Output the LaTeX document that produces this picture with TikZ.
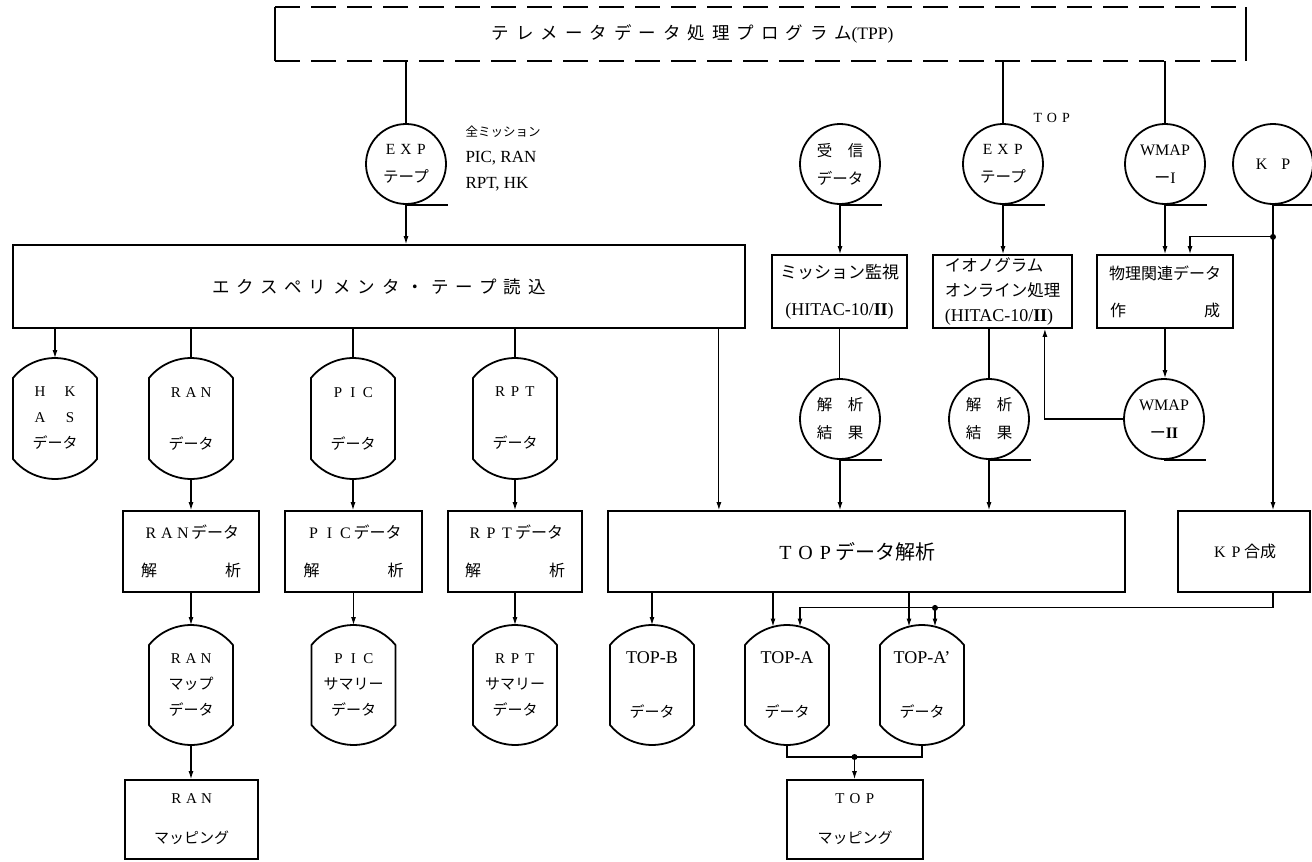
\documentclass[tikz,border=0pt]{standalone}
\usepackage{fontspec}
\setmainfont{Liberation Serif}
\newfontfamily\jpf{Noto Sans CJK JP}
\newfontfamily\jpsp[LetterSpace=40]{Noto Sans CJK JP}
\usetikzlibrary{arrows.meta,calc}
\newcommand\jp[1]{{\jpf #1}}
\newcommand\fsz[2]{\fontsize{#1}{#2}\selectfont}
\newcommand\fw[1]{\fwloop#1\relax}
\def\fwloop#1{\ifx#1\relax\else\makebox[1em]{#1}\expandafter\fwloop\fi}
\newcommand\romtwo{\textbf{I\kern-0.3ptI}}
\tikzset{
  shp/.style={draw, line width=1.8pt},
  conn/.style={line width=1.1pt},
  arr/.style={conn, -{Latex[length=8pt,width=5pt]}},
  tape/.style={shp, circle, minimum size=80pt, inner sep=0pt, align=center},
  box/.style={shp, rectangle, inner sep=0pt, align=center},
  drumnode/.style={inner sep=0pt, outer sep=0pt, minimum width=84pt, minimum height=121pt, align=center},
}
\newcommand\drumshape[1]{\draw[line width=1.8pt] ([yshift=-20pt]#1.north west) arc[start angle=219.1,end angle=320.9,radius=54.1] -- ([yshift=20pt]#1.south east) arc[start angle=39.1,end angle=140.9,radius=54.1] -- cycle;}
\begin{document}
\begin{tikzpicture}[x=1pt,y=-1pt,font=\fsz{15}{18}]
\useasboundingbox (0,0) rectangle (1312,862);
% title
\node[minimum width=971pt, minimum height=54pt, inner sep=0pt, outer sep=0pt] (tpp) at (760.5,34) {\jpsp\fsz{17.5}{20}テレメータデータ処理プログラム{\rmfamily(TPP)}\hspace*{136pt}};
\draw[line width=1.8pt, dash pattern=on 25pt off 11pt] (tpp.north west) -- (tpp.north east) (tpp.south west) -- (tpp.south east);
\draw[line width=1.8pt] (tpp.north west) -- (tpp.south west) (tpp.north east) -- (tpp.south east);
% top row tapes
\node[tape, font=\fsz{15.5}{28}] (exp1) at (406,164) {\fw{EXP}\\\jp{テープ}};
\node[anchor=west, align=left, font=\fsz{17}{26}] (note) at (462,159) {\jp{\fsz{12.5}{26}全ミッション}\\PIC, RAN\\RPT, HK};
\node[tape, font=\fsz{15.5}{28}] (rx) at (840,164) {\jp{受　信}\\\jp{データ}};
\node[font=\fsz{14}{16}] (toplbl) at (1052,118) {\fw{TOP}};
\node[tape, font=\fsz{15.5}{28}] (exp2) at (1003,164) {\fw{EXP}\\\jp{テープ}};
\node[tape, font=\fsz{16}{28}] (wmap1) at (1165,164) {WMAP\\\jp{ー}I};
\node[tape, font=\fsz{16}{20}] (kp) at (1273,164) {K\hspace{14pt}P};
% boxes row 2
\node[box, minimum width=732pt, minimum height=83pt, font=\jpsp\fsz{17.5}{20}] (expbox) at (379,286.5) {エクスペリメンタ・テープ読込};
\node[box, minimum width=135pt, minimum height=73pt, font=\fsz{17}{37}] (mon) at (839.5,291.5) {\jp{ミッション監視}\\{\fsz{18}{37}(HITAC-10/\romtwo)}};
\node[box, minimum width=139pt, minimum height=73pt, align=left, font=\fsz{16.5}{25}] (iono) at (1002.5,291.5) {\jp{イオノグラム}\\\jp{オンライン処理}\\{\fsz{18}{25}(HITAC-10/\romtwo)}};
\node[box, minimum width=136pt, minimum height=73pt, font=\fsz{16}{37}] (phys) at (1165,291.5) {\jp{物理関連データ}\\\makebox[110pt]{\jp{作}\hfill\jp{成}}};
% drums row 3
\node[drumnode, font=\fsz{15}{26}] (hk) at (55,418.5) {\fw{H}\makebox[1em]{}\fw{K}\\\fw{A}\makebox[1em]{}\fw{S}\\\jp{データ}};
\node[drumnode, font=\fsz{15}{52}] (ran) at (191,418.5) {\fw{RAN}\\\jp{データ}};
\node[drumnode, font=\fsz{15}{52}] (pic) at (353,418.5) {\fw{PIC}\\\jp{データ}};
\node[drumnode, font=\fsz{15}{52}] (rpt) at (515,418.5) {\fw{RPT}\\\jp{データ}};
\drumshape{hk}\drumshape{ran}\drumshape{pic}\drumshape{rpt}
% circles row 3
\node[tape, font=\fsz{15.5}{28}] (res1) at (840,419) {\jp{解　析}\\\jp{結　果}};
\node[tape, font=\fsz{15.5}{28}] (res2) at (989,419) {\jp{解　析}\\\jp{結　果}};
\node[tape, font=\fsz{16}{28}] (wmap2) at (1164,419) {WMAP\\\jp{ー}\romtwo};
\foreach \n in {exp1,rx,exp2,wmap1,kp,res1,res2,wmap2}
  \draw[line width=1.8pt] (\n.south) -- ++(42,0);
% boxes row 4
\node[box, minimum width=136pt, minimum height=81pt, font=\fsz{16}{38}] (ranbox) at (191,551.5) {\fw{RAN}\jp{データ}\\\makebox[100pt]{\jp{解}\hfill\jp{析}}};
\node[box, minimum width=137pt, minimum height=81pt, font=\fsz{16}{38}] (picbox) at (353.5,551.5) {\fw{PIC}\jp{データ}\\\makebox[100pt]{\jp{解}\hfill\jp{析}}};
\node[box, minimum width=134pt, minimum height=81pt, font=\fsz{16}{38}] (rptbox) at (515,551.5) {\fw{RPT}\jp{データ}\\\makebox[100pt]{\jp{解}\hfill\jp{析}}};
\node[box, minimum width=517pt, minimum height=81pt, font=\fsz{20}{24}] (topbox) at (866.5,551.5) {\fw{TOP}\jp{データ解析}\hspace*{22pt}};
\node[box, minimum width=132pt, minimum height=81pt, font=\fsz{16}{20}] (kpbox) at (1244,551.5) {\fw{KP}\jp{合成}};
% drums row 5
\node[drumnode, minimum height=120pt, font=\fsz{15}{26}] (ranmap) at (191,685) {\fw{RAN}\\\jp{マップ}\\\jp{データ}};
\node[drumnode, minimum height=120pt, font=\fsz{15}{26}] (picsum) at (353.5,685) {\fw{PIC}\\\jp{サマリー}\\\jp{データ}};
\node[drumnode, minimum height=120pt, font=\fsz{15}{26}] (rptsum) at (515,685) {\fw{RPT}\\\jp{サマリー}\\\jp{データ}};
\node[drumnode, minimum height=120pt, font=\fsz{18}{54}] (topb) at (652,685) {TOP-B\\\jp{\fsz{15}{54}データ}};
\node[drumnode, minimum height=120pt, font=\fsz{18}{54}] (topa) at (787,685) {TOP-A\\\jp{\fsz{15}{54}データ}};
\node[drumnode, minimum height=120pt, font=\fsz{18}{54}] (topa2) at (922,685) {TOP-A’\\\jp{\fsz{15}{54}データ}};
\drumshape{ranmap}\drumshape{picsum}\drumshape{rptsum}\drumshape{topb}\drumshape{topa}\drumshape{topa2}
% boxes row 6
\node[box, minimum width=133pt, minimum height=79pt, font=\fsz{15}{40}] (ranmapping) at (191.5,819.5) {\fw{RAN}\\\jp{マッピング}};
\node[box, minimum width=136pt, minimum height=79pt, font=\fsz{15}{40}] (topmapping) at (855,819.5) {\fw{TOP}\\\jp{マッピング}};
% connectors
\draw[conn] (tpp.south -| exp1.north) -- (exp1.north);
\draw[conn] (tpp.south -| exp2.north) -- (exp2.north);
\draw[conn] (tpp.south -| wmap1.north) -- (wmap1.north);
\draw[arr] (exp1.south) -- (exp1.south |- expbox.north);
\draw[arr] (rx.south) -- (rx.south |- mon.north);
\draw[arr] (exp2.south) -- (exp2.south |- iono.north);
\draw[arr] (wmap1.south) -- (wmap1.south |- phys.north);
\draw[arr] (kp.south) -- (kp.south |- kpbox.north);
\coordinate (kpj) at ($(kp.south)+(0,32)$);
\fill (kpj) circle[radius=3];
\draw[arr] (kpj) -| ([xshift=25pt]phys.north);
\draw[arr] (hk.north |- expbox.south) -- (hk.north);
\foreach \d in {ran,pic,rpt} \draw[conn] (\d.north |- expbox.south) -- (\d.north);
\coordinate (ex2top) at ([xshift=-27pt]expbox.south east);
\draw[arr] (ex2top) -- (ex2top |- topbox.north);
\draw[conn] (mon.south) -- (mon.south |- res1.north);
\draw[conn] (res2.north |- iono.south) -- (res2.north);
\draw[arr] (phys.south) -- (phys.south |- wmap2.north);
\draw[arr] (wmap2.west) -| ([xshift=-28pt]iono.south east);
\draw[arr] (res1.south) -- (res1.south |- topbox.north);
\draw[arr] (res2.south) -- (res2.south |- topbox.north);
\draw[arr] (ran.south) -- (ran.south |- ranbox.north);
\draw[arr] (pic.south) -- (pic.south |- picbox.north);
\draw[arr] (rpt.south) -- (rpt.south |- rptbox.north);
\draw[arr] (ranbox.south) -- (ranbox.south |- ranmap.north);
\draw[arr] (picbox.south) -- (picbox.south |- picsum.north);
\draw[arr] (rptbox.south) -- (rptbox.south |- rptsum.north);
\draw[arr] (ranmap.south) -- (ranmap.south |- ranmapping.north);
\draw[arr] (topb.north |- topbox.south) -- (topb.north);
\draw[arr] ([xshift=-14pt]topa.north |- topbox.south) -- ([xshift=-14pt,yshift=-1.5pt]topa.north);
\draw[arr] ([xshift=-13pt]topa2.north |- topbox.south) -- ([xshift=-13pt,yshift=-1.5pt]topa2.north);
\coordinate (kpbot) at (kp.south |- kpbox.south);
\coordinate (kpc) at ($(kpbot)+(0,15)$);
\draw[arr] (kpbot) -- (kpc) -| ([xshift=13pt,yshift=-1.5pt]topa.north);
\coordinate (kpd) at ([xshift=13pt]topa2.north |- kpc);
\fill (kpd) circle[radius=3];
\draw[arr] (kpd) -- ([xshift=13pt,yshift=-1.5pt]topa2.north);
\coordinate (tj) at ($($(topa.south)!0.5!(topa2.south)$)+(0,12)$);
\draw[conn] (topa.south) |- (tj) -| (topa2.south);
\fill (tj) circle[radius=3];
\draw[arr] (tj) -- (tj |- topmapping.north);
\end{tikzpicture}
\end{document}
